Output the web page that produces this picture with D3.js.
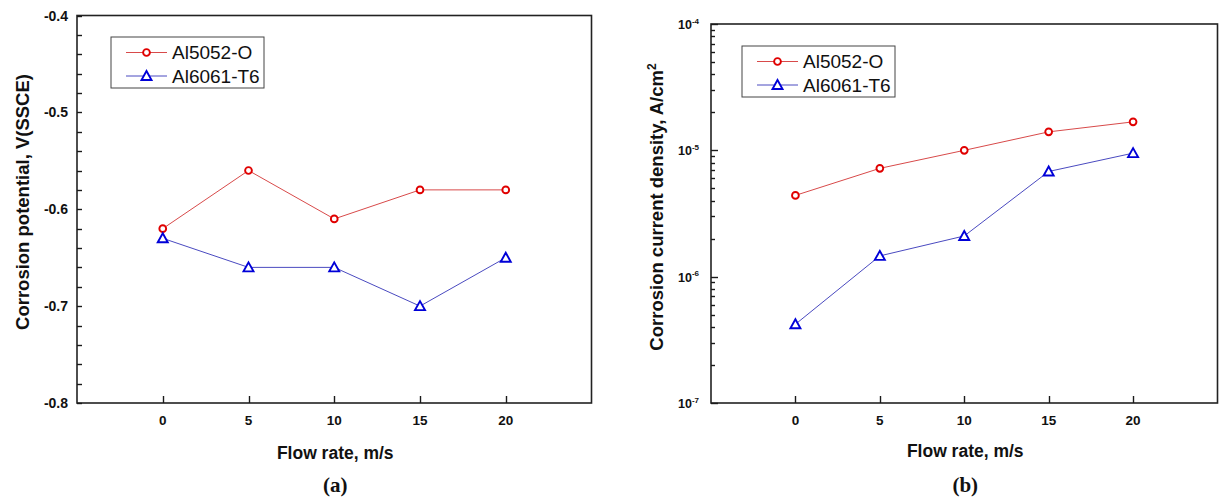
<!DOCTYPE html>
<html>
<head>
<meta charset="utf-8">
<script src="https://cdn.jsdelivr.net/npm/d3@7"></script>
<style>
  body { margin: 0; background: #fff; }
  svg { display: block; font-family: Arial, "Liberation Sans", sans-serif; }
</style>
</head>
<body>
<svg id="chart" width="1219" height="500"></svg>
<script>
// Flow rates (m/s)
const flowRates = [0, 5, 10, 15, 20];
const seriesNames = ["Al5052-O", "Al6061-T6"];

// (a) Corrosion potential, V(SSCE)
const potential5052 = [-0.62, -0.56, -0.61, -0.58, -0.58];
const potential6061 = [-0.63, -0.66, -0.66, -0.70, -0.65];
const potentialTicks = [-0.4, -0.5, -0.6, -0.7, -0.8];
const potentialTickLabels = ["-0.4", "-0.5", "-0.6", "-0.7", "-0.8"];

// (b) Corrosion current density, A/cm^2
const current5052 = [4.4e-6, 7.2e-6, 1.0e-5, 1.4e-5, 1.68e-5];
const current6061 = [4.2e-7, 1.46e-6, 2.1e-6, 6.8e-6, 9.5e-6];
const currentExponents = [-4, -5, -6, -7];

const svg = d3.select("#chart");
const RED_LINE = "#d84a4a", RED = "#e00000";
const BLUE_LINE = "#4a4ac0", BLUE = "#0000d8";
const INK = "#111";
const TICK = "#1a1a1a";

// inward tick marks along a vertical axis
function yTicks(g, y, x0, values, len) {
  g.append("g").selectAll("line").data(values).enter().append("line")
    .attr("x1", x0).attr("x2", x0 + len)
    .attr("y1", d => Math.round(y(d)) + 0.5).attr("y2", d => Math.round(y(d)) + 0.5)
    .attr("stroke", TICK).attr("stroke-width", 1.4);
}

function drawPanel(cfg) {
  const { left, right, top, bottom, y, series, panelLabel } = cfg;
  const x = d3.scaleLinear().domain([-5, 25]).range([left, right]);
  const g = svg.append("g");

  // frame
  g.append("rect").attr("x", left).attr("y", top).attr("width", right - left).attr("height", bottom - top)
    .attr("fill", "none").attr("stroke", "#222").attr("stroke-width", 1.6);

  // x ticks (inward) and labels
  const xt = g.append("g");
  xt.selectAll("line").data(flowRates).enter().append("line")
    .attr("x1", d => Math.round(x(d)) + 0.5).attr("x2", d => Math.round(x(d)) + 0.5)
    .attr("y1", bottom).attr("y2", bottom - 7)
    .attr("stroke", TICK).attr("stroke-width", 1.4);
  xt.selectAll("text").data(flowRates).enter().append("text")
    .attr("x", d => x(d)).attr("y", bottom + 21.5).attr("text-anchor", "middle")
    .attr("font-size", 13.5).attr("font-weight", "bold").attr("fill", INK)
    .text(d => String(d));

  cfg.drawYAxis(g, y);

  // series
  series.forEach(s => {
    const line = d3.line().x((d, i) => x(flowRates[i])).y(d => y(d));
    g.append("path").datum(s.values).attr("d", line).attr("fill", "none")
      .attr("stroke", s.lineColor).attr("stroke-width", 1);
    g.append("g").selectAll("path").data(s.values).enter().append("path")
      .attr("transform", (d, i) => `translate(${x(flowRates[i])},${y(d)})`)
      .attr("d", s.symbol)
      .attr("fill", "#fff").attr("stroke", s.color).attr("stroke-width", 1.9);
  });

  // legend
  const lg = g.append("g").attr("transform", `translate(${cfg.legendX},${cfg.legendY})`);
  lg.append("rect").attr("width", 153).attr("height", 51).attr("fill", "#fff").attr("stroke", "#444").attr("stroke-width", 1);
  series.forEach((s, i) => {
    const yy = 15.5 + i * 23.5;
    lg.append("line").attr("x1", 15).attr("x2", 56).attr("y1", yy).attr("y2", yy).attr("stroke", s.lineColor).attr("stroke-width", 1);
    lg.append("path").attr("transform", `translate(35.5,${yy})`).attr("d", s.symbol)
      .attr("fill", "#fff").attr("stroke", s.color).attr("stroke-width", 1.9);
    lg.append("text").attr("x", 61).attr("y", yy).attr("dy", "0.36em").attr("font-size", 19).attr("fill", INK).text(s.name);
  });

  // axis titles
  g.append("text").attr("transform", `translate(${cfg.yTitleX},${cfg.yTitleY}) rotate(-90)`)
    .attr("text-anchor", "middle").attr("font-size", 18.5).attr("font-weight", "bold").attr("fill", INK)
    .call(cfg.yTitle);
  g.append("text").attr("x", (left + right) / 2 + 1).attr("y", cfg.xTitleY).attr("text-anchor", "middle")
    .attr("font-size", 17.5).attr("font-weight", "bold").attr("fill", INK).text("Flow rate, m/s");
  g.append("text").attr("x", (left + right) / 2 + 1).attr("y", 492).attr("text-anchor", "middle")
    .attr("font-family", "'Liberation Serif', 'Times New Roman', serif")
    .attr("font-size", 21).attr("font-weight", "bold").attr("fill", INK).text(panelLabel);
}

const circleSym = d3.symbol().type(d3.symbolCircle).size(36)();
const triSym = "M0,-5L5,4L-5,4Z";

// Panel (a): linear potential axis
{
  const left = 77, top = 15.5, bottom = 403;
  const y = d3.scaleLinear().domain([-0.8, -0.4]).range([bottom, top]);
  drawPanel({
    left, right: 591.5, top, bottom, y,
    legendX: 111, legendY: 37,
    yTitleX: 29, yTitleY: 202, xTitleY: 459, panelLabel: "(a)",
    series: [
      { name: seriesNames[0], values: potential5052, color: RED, lineColor: RED_LINE, symbol: circleSym },
      { name: seriesNames[1], values: potential6061, color: BLUE, lineColor: BLUE_LINE, symbol: triSym }
    ],
    yTitle: t => t.text("Corrosion potential, V(SSCE)"),
    drawYAxis: (g, y) => {
      const minor = d3.range(0, 21).map(i => -0.8 + i * 0.02);
      yTicks(g, y, left, minor, 5);
      g.append("g").selectAll("text").data(potentialTicks).enter().append("text")
        .attr("x", left - 9).attr("y", d => y(d)).attr("dy", "0.36em").attr("text-anchor", "end")
        .attr("font-size", 14).attr("font-weight", "bold").attr("fill", INK)
        .text((d, i) => potentialTickLabels[i]);
    }
  });
}

// Panel (b): logarithmic current density axis
{
  const left = 711, top = 24, bottom = 403;
  const y = d3.scaleLog().domain([1e-7, 1e-4]).range([bottom, top]);
  drawPanel({
    left, right: 1217.5, top, bottom, y,
    legendX: 742, legendY: 46,
    yTitleX: 663, yTitleY: 207, xTitleY: 457, panelLabel: "(b)",
    series: [
      { name: seriesNames[0], values: current5052, color: RED, lineColor: RED_LINE, symbol: circleSym },
      { name: seriesNames[1], values: current6061, color: BLUE, lineColor: BLUE_LINE, symbol: triSym }
    ],
    yTitle: t => {
      t.append("tspan").text("Corrosion current density, A/cm");
      t.append("tspan").attr("dy", "-0.55em").attr("font-size", 12).text("2");
    },
    drawYAxis: (g, y) => {
      const minor = [];
      for (let e = -7; e < -4; e++) for (let m = 2; m <= 9; m++) minor.push(m * Math.pow(10, e));
      yTicks(g, y, left, minor, 4);
      const majors = currentExponents.map(e => Math.pow(10, e));
      yTicks(g, y, left, majors, 7);
      g.append("g").selectAll("text").data(majors).enter().append("text")
        .attr("x", left - 12).attr("y", d => y(d)).attr("dy", "0.4em").attr("text-anchor", "end")
        .attr("font-size", 12.5).attr("font-weight", "bold").attr("fill", INK)
        .each(function(d) {
          const t = d3.select(this);
          t.append("tspan").text("10");
          t.append("tspan").attr("dy", "-0.65em").attr("font-size", 8).text(String(Math.round(Math.log10(d))));
        });
    }
  });
}
</script>
</body>
</html>
